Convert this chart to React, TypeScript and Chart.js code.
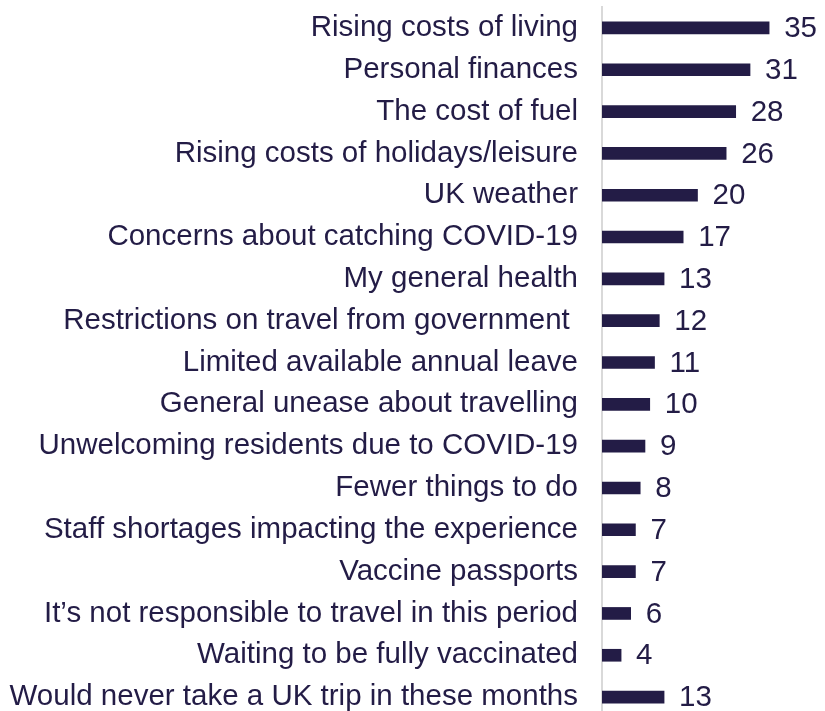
import React, { useEffect, useRef } from "react";
import { Chart, registerables } from "chart.js";

Chart.register(...registerables);

const categories = [
  "Rising costs of living",
  "Personal finances",
  "The cost of fuel",
  "Rising costs of holidays/leisure",
  "UK weather",
  "Concerns about catching COVID-19",
  "My general health",
  "Restrictions on travel from government ",
  "Limited available annual leave",
  "General unease about travelling",
  "Unwelcoming residents due to COVID-19",
  "Fewer things to do",
  "Staff shortages impacting the experience",
  "Vaccine passports",
  "It\u2019s not responsible to travel in this period",
  "Waiting to be fully vaccinated",
  "Would never take a UK trip in these months",
];

const values = [35, 31, 28, 26, 20, 17, 13, 12, 11, 10, 9, 8, 7, 7, 6, 4, 13];

const NAVY = "#231c46";
const FONT = "Arial, 'Liberation Sans', sans-serif";

const valueLabels = {
  id: "valueLabels",
  afterDatasetsDraw(chart: any) {
    const ctx = chart.ctx;
    const meta = chart.getDatasetMeta(0);
    ctx.save();
    ctx.fillStyle = NAVY;
    ctx.font = `29.5px ${FONT}`;
    ctx.textAlign = "left";
    ctx.textBaseline = "middle";
    meta.data.forEach((bar: any, i: number) => {
      ctx.fillText(String(values[i]), bar.x + 15, bar.y + 1);
    });
    ctx.restore();
  },
};

export default function App() {
  const ref = useRef<HTMLCanvasElement | null>(null);

  useEffect(() => {
    document.body.style.margin = "0";
    document.body.style.overflow = "hidden";
    const canvas = ref.current!;
    const chart = new Chart(canvas, {
      type: "bar",
      data: {
        labels: categories,
        datasets: [
          {
            data: values,
            backgroundColor: NAVY,
            barThickness: 12,
          },
        ],
      },
      options: {
        indexAxis: "y",
        animation: false,
        responsive: false,
        layout: { padding: { top: 7, right: 0, left: 0, bottom: 0 } },
        plugins: {
          legend: { display: false },
          tooltip: { enabled: false },
        },
        scales: {
          x: {
            display: false,
            min: 0,
            max: 46.7,
          },
          y: {
            afterFit(scale: any) {
              scale.width = 602;
              scale.paddingTop = 0;
              scale.paddingBottom = 0;
            },
            grid: { display: false, drawTicks: false },
            border: { display: true, color: "#d9d9d9", width: 2 },
            ticks: {
              padding: 24,
              color: NAVY,
              font: { size: 29.5, family: FONT },
              autoSkip: false,
            },
          },
        },
      },
      plugins: [valueLabels],
    });
    return () => chart.destroy();
  }, []);

  return (
    <div style={{ position: "fixed", left: 0, top: 0, width: 825, height: 711, overflow: "hidden", background: "#fff" }}>
      <canvas ref={ref} width={825} height={718} style={{ display: "block", width: 825, height: 718 }} />
    </div>
  );
}
